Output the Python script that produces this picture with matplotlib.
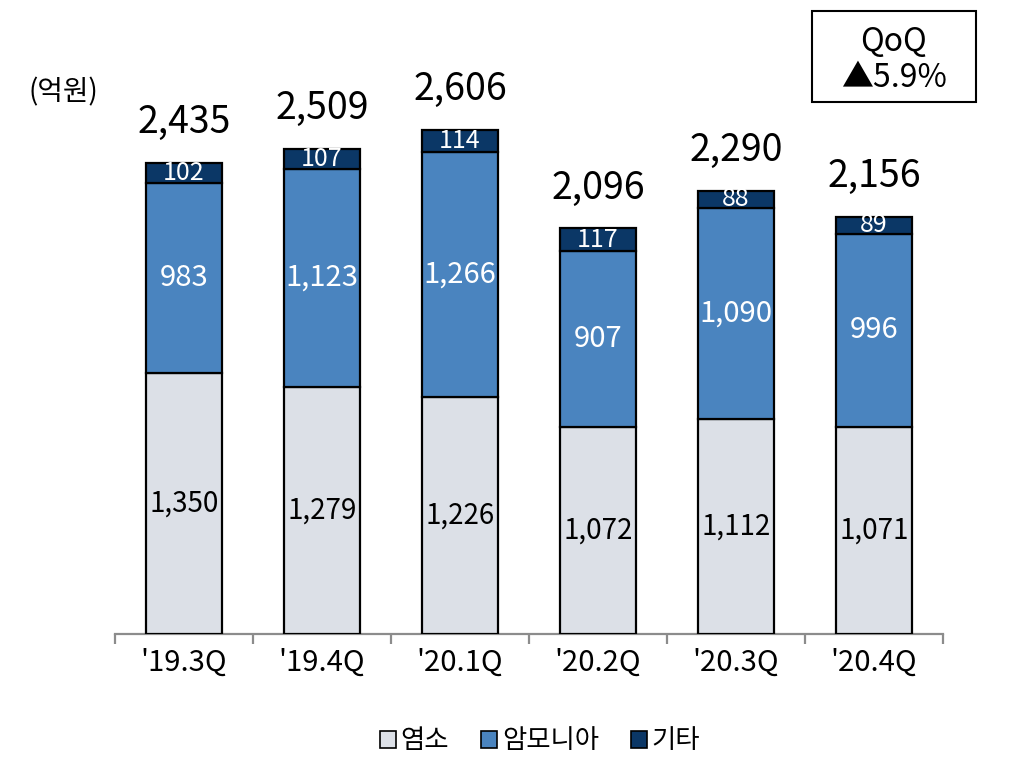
import matplotlib
matplotlib.use("Agg")
import matplotlib.pyplot as plt
import numpy as np
from matplotlib.patches import Patch, Rectangle

plt.rcParams['font.family'] = ['Noto Sans CJK KR', 'DejaVu Sans']

categories = ["'19.3Q", "'19.4Q", "'20.1Q", "'20.2Q", "'20.3Q", "'20.4Q"]
hydrogen = [1350, 1279, 1226, 1072, 1112, 1071]
ammonia = [983, 1123, 1266, 907, 1090, 996]
others = [102, 107, 114, 117, 88, 89]
totals = [2435, 2509, 2606, 2096, 2290, 2156]
series_names = ["염소", "암모니아", "기타"]
colors = ["#DCE0E7", "#4A84BF", "#0B3766"]

W, H = 1023, 769
fig = plt.figure(figsize=(W / 100, H / 100), dpi=100)
ax_h = 534
ax = fig.add_axes([115 / W, (H - 634) / H, 828 / W, ax_h / H])

x = np.arange(len(categories))
bw = 0.55
bottoms = np.zeros(len(categories))
for vals, col, name in zip([hydrogen, ammonia, others], colors, series_names):
    ax.bar(x, vals, bw, bottom=bottoms, color=col, edgecolor="black",
           linewidth=1.6, label=name, zorder=3)
    for xi, b, v in zip(x, bottoms, vals):
        if col == colors[0]:
            tc, fs = "black", 20
        elif col == colors[1]:
            tc, fs = "white", 21
        else:
            tc, fs = "white", 18
        ax.text(xi, b + v / 2, f"{v:,}", ha="center", va="center",
                color=tc, fontsize=fs, zorder=4)
    bottoms += np.array(vals)

for xi, t in zip(x, totals):
    ax.annotate(f"{t:,}", (xi, t), xytext=(0, 15), textcoords="offset points",
                ha="center", va="bottom", fontsize=27, color="black")

ax.set_xlim(-0.5, len(categories) - 0.5)
ax.set_ylim(0, ax_h / 0.1935)
for s in ["top", "right", "left"]:
    ax.spines[s].set_visible(False)
ax.spines["bottom"].set_color("#8C8C8C")
ax.spines["bottom"].set_linewidth(1.6)
ax.set_yticks([])
ax.set_xticks(x)
ax.set_xticklabels(categories, fontsize=21)
ax.tick_params(axis="x", which="major", length=0, pad=10)
ax.set_xticks(np.arange(-0.5, len(categories)), minor=True)
ax.tick_params(axis="x", which="minor", length=7, width=1.6, color="#8C8C8C")

fig.text(63 / W, 1 - 92 / H, "(억원)", ha="center", va="center", fontsize=20)

# QoQ box
fig.add_artist(Rectangle((812 / W, 1 - 102 / H), 164 / W, 91 / H,
                         transform=fig.transFigure, facecolor="white",
                         edgecolor="black", linewidth=1.5))
fig.text(894 / W, 1 - 42 / H, "QoQ", ha="center", va="center", fontsize=23)
fig.text(894 / W, 1 - 78 / H, "▲5.9%", ha="center", va="center", fontsize=23)

handles = [Patch(facecolor=c, edgecolor="black", linewidth=1.2) for c in colors]
fig.legend(handles, series_names, loc="center", bbox_to_anchor=(540 / W, 1 - 741 / H),
           ncol=3, frameon=False, fontsize=19, handlelength=0.6, handleheight=0.6,
           handletextpad=0.2, columnspacing=1.2)

fig.savefig("out.png", dpi=100)
